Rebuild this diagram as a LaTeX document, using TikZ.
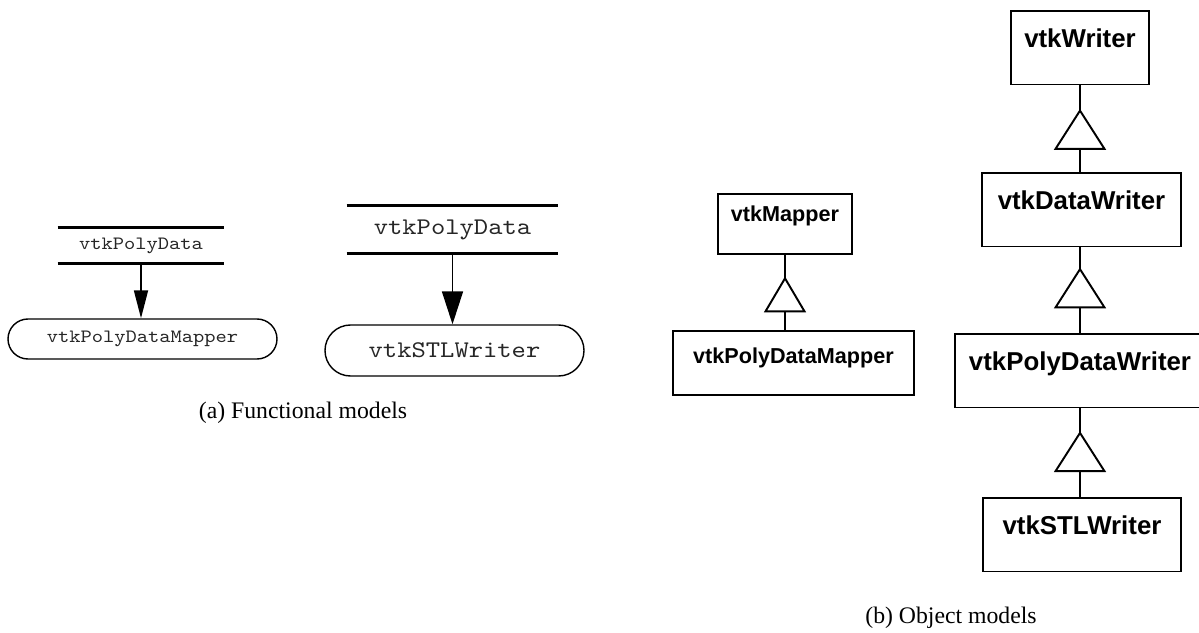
\documentclass[tikz,border=0pt]{standalone}
\usepackage{fontspec}
\setmainfont{Liberation Serif}
\setsansfont{Liberation Sans}
\setmonofont{lmmono10-regular.otf}[FakeStretch=1.14]
\usepackage{tikz}
\usetikzlibrary{arrows.meta,decorations.markings}
\tikzset{
  store/.style={inner sep=0pt, text=black!85},
  bar/.style={line width=1.6pt},
  proc/.style={draw, line width=0.8pt, inner sep=0pt, text=black!85},
  flow/.style={line width=1pt, -{Triangle[length=#1]}},
  classbox/.style={draw, line width=1.1pt, inner xsep=0pt, inner ysep=0pt, anchor=north,
    font=\sffamily\bfseries},
  inherit/.style 2 args={line width=1.1pt, postaction=decorate,
    decoration={markings, mark=at position #1 with {\arrow{#2}}}},
  caption/.style={font=\rmfamily\fontsize{13.5}{16}\selectfont},
}

\begin{document}
\begin{tikzpicture}[x=0.2mm, y=-0.2mm]
  \useasboundingbox (0,0) rectangle (1199,633);
  % functional model: mapper
  \node[store, minimum width=33.2mm, minimum height=7mm, font=\ttfamily\fontsize{10.7}{12}\selectfont] (data1) at (141,245.5) {vtkPolyData};
  \draw[bar] (data1.north west) -- (data1.north east);
  \draw[bar] (data1.south west) -- (data1.south east);
  \node[proc, minimum width=53.8mm, minimum height=8mm, rounded corners=4mm, font=\ttfamily\fontsize{10.7}{12}\selectfont] (mapper1) at (142.5,339) {vtkPolyDataMapper};
  \draw[flow={5.6mm 0 0, width=2.8mm}] (data1.south) -- (data1.south |- mapper1.north);
  % functional model: writer
  \node[store, minimum width=42.2mm, minimum height=9.4mm, font=\ttfamily\fontsize{13.6}{15}\selectfont] (data2) at (452.5,229.5) {vtkPolyData};
  \draw[bar] (data2.north west) -- (data2.north east);
  \draw[bar] (data2.south west) -- (data2.south east);
  \node[proc, minimum width=51.8mm, minimum height=10.2mm, rounded corners=5.1mm, font=\ttfamily\fontsize{13.6}{15}\selectfont] (writer2) at (454.5,350.5) {vtkSTLWriter};
  \draw[flow={6.6mm 0 0, width=4.2mm}] (data2.south) -- (data2.south |- writer2.north);
  \node[caption] (capa) at (303,413) {(a) Functional models};

  % object model: mapper
  \node[classbox, minimum width=26.8mm, text height=5.6mm, text depth=6.4mm, font=\sffamily\bfseries\fontsize{12.3}{14}\selectfont] (mapper) at (785,193) {vtkMapper};
  \node[classbox, minimum width=48.2mm, text height=6.6mm, text depth=6.2mm, font=\sffamily\bfseries\fontsize{12.3}{14}\selectfont] (pdmapper) at (793.5,330) {vtkPolyDataMapper};
  \draw[inherit={0.714}{Triangle[fill=white, length=7.2mm, width=8.4mm]}] (mapper.south |- pdmapper.north) -- (mapper.south);
  % object model: writer
  \node[classbox, minimum width=27.6mm, text height=7.3mm, text depth=7.4mm, font=\sffamily\bfseries\fontsize{14.7}{17}\selectfont] (writer) at (1080,10) {vtkWriter};
  \node[classbox, minimum width=39.8mm, text height=7.3mm, text depth=7.4mm, font=\sffamily\bfseries\fontsize{14.7}{17}\selectfont] (datawriter) at (1081.5,172) {vtkDataWriter};
  \node[classbox, minimum width=50mm, text height=7.3mm, text depth=7.4mm, font=\sffamily\bfseries\fontsize{14.7}{17}\selectfont] (pdwriter) at (1080,333) {vtkPolyDataWriter};
  \node[classbox, minimum width=39.6mm, text height=7.3mm, text depth=7.4mm, font=\sffamily\bfseries\fontsize{14.7}{17}\selectfont] (stlwriter) at (1082,497) {vtkSTLWriter};
  \draw[inherit={0.73}{Triangle[fill=white, length=8.2mm, width=10.4mm]}] (writer.south |- datawriter.north) -- (writer.south);
  \draw[inherit={0.767}{Triangle[fill=white, length=8.2mm, width=10.4mm]}] (writer.south |- pdwriter.north) -- (writer.south |- datawriter.south);
  \draw[inherit={0.744}{Triangle[fill=white, length=8.2mm, width=10.4mm]}] (writer.south |- stlwriter.north) -- (writer.south |- pdwriter.south);
  \node[caption] (capb) at (951,618) {(b) Object models};
\end{tikzpicture}
\end{document}
